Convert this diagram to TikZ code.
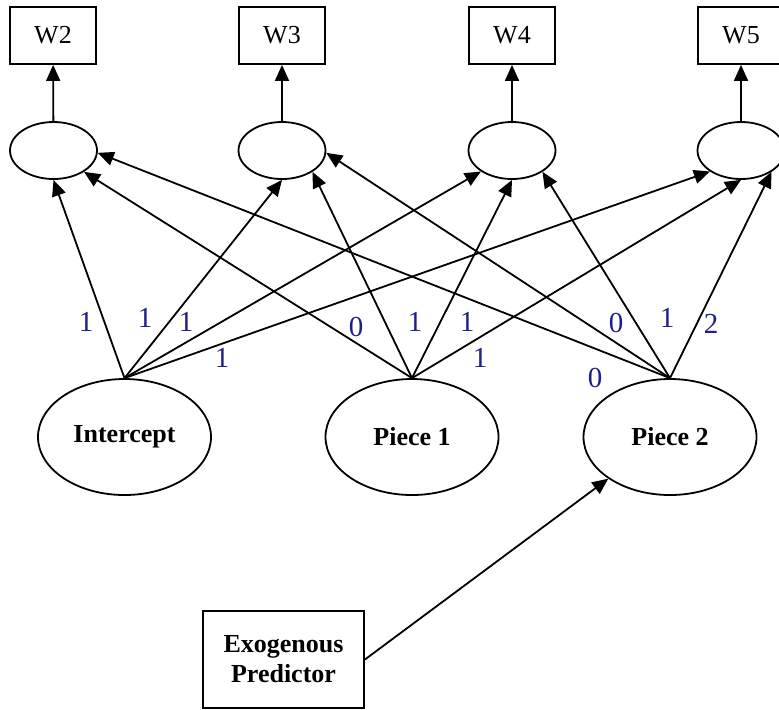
\documentclass[tikz,border=0pt]{standalone}
\usepackage{fontspec}
\setmainfont{Liberation Serif}
\usetikzlibrary{arrows.meta,shapes.geometric}
\definecolor{loadblue}{RGB}{30,30,140}

\begin{document}
\begin{tikzpicture}[x=0.5pt,y=-0.5pt,
    obs/.style={draw,line width=0.9pt,minimum width=43pt,minimum height=28.5pt,inner sep=0pt,font=\fontsize{13}{15}\selectfont},
    res/.style={draw,ellipse,line width=0.9pt,minimum width=43.5pt,minimum height=28.5pt,inner sep=0pt},
    fac/.style={draw,ellipse,line width=0.9pt,minimum width=86.5pt,minimum height=58pt,inner sep=0pt,font=\fontsize{13}{15}\selectfont\bfseries},
    load/.style={line width=0.9pt,-{Triangle[length=8pt,width=7pt]}},
    num/.style={loadblue,inner sep=0pt,font=\fontsize{14.5}{16}\selectfont}]
    \useasboundingbox (0,0) rectangle (779,709);
    % observed waves
    \node[obs] (w2) at (53,35.5) {W2};
    \node[obs] (w3) at (282,35.5) {W3};
    \node[obs] (w4) at (512,35.5) {W4};
    \node[obs] (w5) at (741,35.5) {W5};
    % residual ellipses
    \node[res] (e2) at (53.5,150.5) {};
    \node[res] (e3) at (282,150.5) {};
    \node[res] (e4) at (512,150.5) {};
    \node[res] (e5) at (741,150.5) {};
    \draw[load] (e2) -- (w2);
    \draw[load] (e3) -- (w3);
    \draw[load] (e4) -- (w4);
    \draw[load] (e5) -- (w5);
    % growth factors
    \node[fac] (int) at (124.5,437) {Intercept};
    \node[fac] (p1) at (412,437) {Piece 1};
    \node[fac] (p2) at (670,437) {Piece 2};
    \node[draw,line width=0.9pt,minimum width=80.5pt,minimum height=48.5pt,align=center,font=\fontsize{13}{15}\selectfont\bfseries] (exo) at (283.5,659.5) {Exogenous\\Predictor};
    \draw[load] (exo.east) -- (p2.-146);
    % loadings
    \draw[load] (int.north) -- (e2.-90);
    \draw[load] (int.north) -- (e3.-90);
    \draw[load] (int.north) -- (e4.-146);
    \draw[load] (int.north) -- (e5.-146);
    \draw[load] (p1.north) -- (e2.-35);
    \draw[load] (p1.north) -- (e3.-35);
    \draw[load] (p1.north) -- (e4.-90);
    \draw[load] (p1.north) -- (e5.-90);
    \draw[load] (p2.north) -- (e2.-3);
    \draw[load] (p2.north) -- (e3.-3);
    \draw[load] (p2.north) -- (e4.-35);
    \draw[load] (p2.north) -- (e5.-35);
    \node[num] at (86,322) {1};
    \node[num] at (145,318) {1};
    \node[num] at (186,322) {1};
    \node[num] at (222,358) {1};
    \node[num] at (356,327) {0};
    \node[num] at (415,322) {1};
    \node[num] at (467,322) {1};
    \node[num] at (480,358) {1};
    \node[num] at (595,378) {0};
    \node[num] at (616,323) {0};
    \node[num] at (667,318) {1};
    \node[num] at (711,324) {2};
\end{tikzpicture}
\end{document}
